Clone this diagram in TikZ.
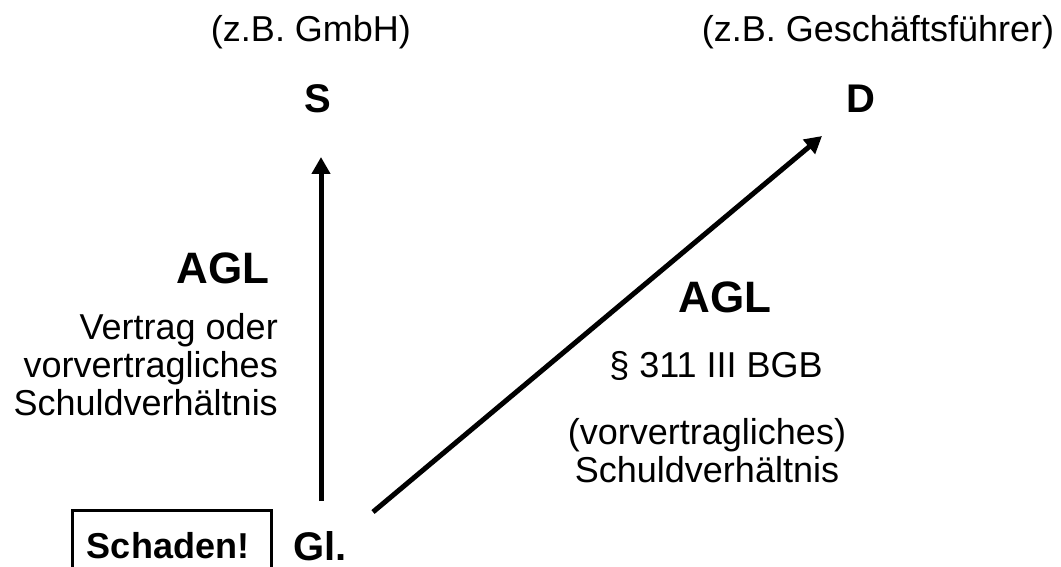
\documentclass[tikz,border=0pt]{standalone}
\usepackage{fontspec}
\setmainfont{Liberation Sans}
\usetikzlibrary{arrows.meta}
\begin{document}
\begin{tikzpicture}[x=1pt,y=-1pt,
  txt/.style={anchor=base,inner sep=0pt,font=\fontsize{36}{38}\selectfont},
  big/.style={anchor=base,inner sep=0pt,font=\fontsize{40}{44}\selectfont\bfseries},
  agl/.style={anchor=base,inner sep=0pt,font=\fontsize{44}{48}\selectfont\bfseries},
  arr/.style={line width=5pt,-{Triangle[length=17pt,width=18pt]}}]
\useasboundingbox (0,0) rectangle (1061,567);
\clip (0,0) rectangle (1061,567);
% headings
\node[txt] (gmbh) at (311,42) {(z.B. GmbH)};
\node[txt] (gf) at (878,42) {(z.B. Geschäftsführer)};
\node[big] (s) at (318,113) {S};
\node[big] (d) at (861,113) {D};
% left labels
\node[agl] (agl1) at (223,283) {AGL};
\node[txt,anchor=base east,align=right] (v1) at (278,415) {Vertrag oder\\vorvertragliches\\Schuldverhältnis};
% right labels
\node[agl] (agl2) at (725,312) {AGL};
\node[txt] (bgb) at (716,377) {§ 311 III BGB};
\node[txt,align=center] (vv) at (707,482) {(vorvertragliches)\\Schuldverhältnis};
% bottom
\node[big] (gl) at (320,560) {Gl.};
\draw[line width=3pt] (72,510) rectangle (271,600);
\node[txt,font=\fontsize{36}{38}\selectfont\bfseries] (schaden) at (168,558) {Schaden!};
% connectors
\coordinate (glN) at (321,501);
\coordinate (sS) at (321,157);
\coordinate (glE) at (373,512);
\coordinate (dS) at (822,136);
\draw[arr] (glN) -- (sS);
\draw[arr] (glE) -- (dS);
\end{tikzpicture}
\end{document}
